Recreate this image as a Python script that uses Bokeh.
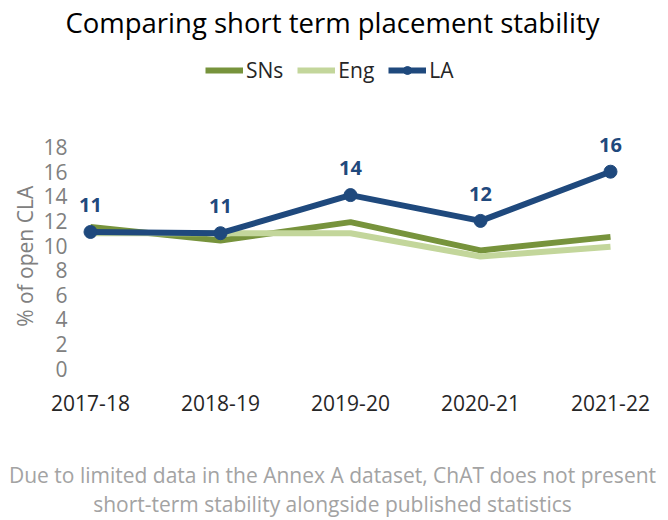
import math
from bokeh.plotting import figure
from bokeh.layouts import column, row
from bokeh.models import (ColumnDataSource, Label, LabelSet, Legend, LegendItem,
                          FixedTicker, Range1d)
from bokeh.core.properties import value
from bokeh.embed import file_html
from bokeh.resources import INLINE

# ---- data ----
years = ["2017-18", "2018-19", "2019-20", "2020-21", "2021-22"]
sns = [11.5, 10.4, 11.9, 9.6, 10.7]
eng = [11.0, 11.0, 11.0, 9.1, 9.9]
la = [11.1, 11.0, 14.1, 12.0, 16.0]
la_labels = ["11", "11", "14", "12", "16"]
y_ticks = [0, 2, 4, 6, 8, 10, 12, 14, 16, 18]

title_text = "Comparing short term placement stability"
y_label = "% of open CLA"
footer1 = "Due to limited data in the Annex A dataset, ChAT does not present"
footer2 = "short-term stability alongside published statistics"

FONT = "Open Sans"
SNS_C = "#77933c"
ENG_C = "#c3d69b"
LA_C = "#1f497d"
GREY = "#808080"

xs = list(range(len(years)))
src = ColumnDataSource(dict(x=xs, sns=sns, eng=eng, la=la, lab=la_labels))

# layout (pixels, page coordinates)
TOTAL_W = 666
LEFT_W = 40
MAIN_W = TOTAL_W - LEFT_W
TITLE_H = 46
MAIN_H = 394          # page rows 46..440
FOOT_H = 78           # page rows 440..518
PX0, PXS = 90, 130.0  # x of first category, spacing
PY0, PYS = 368, 12.3  # y of value 0, pixels per unit


def px_to_x(px):
    return (px - PX0) / PXS


def py_to_y(py):
    return (PY0 - py) / PYS


frame_left, frame_right, frame_bottom = 78, 650, 388


def strip(w, h):
    f = figure(width=w, height=h, output_backend="svg", toolbar_location=None,
               x_range=Range1d(0, w), y_range=Range1d(0, h),
               min_border=0, outline_line_color=None)
    f.axis.visible = False
    f.grid.visible = False
    return f


# ---- title strip ----
tt = strip(TOTAL_W, TITLE_H)
tt.add_layout(Label(x=332, y=TITLE_H - 22, text=title_text,
                    text_align="center", text_baseline="middle",
                    text_font=FONT, text_font_size="27.5px", text_color="#000000"))

# ---- y-axis title strip ----
yl = strip(LEFT_W, MAIN_H)
yl.add_layout(Label(x=24, y=MAIN_H - (369 - TITLE_H), text=y_label, angle=math.pi / 2,
                    text_align="left", text_baseline="middle",
                    text_font=FONT, text_font_size="21px", text_color=GREY))

# ---- main chart ----
p = figure(width=MAIN_W, height=MAIN_H, output_backend="svg", toolbar_location=None,
           x_range=Range1d(px_to_x(frame_left), px_to_x(frame_right)),
           y_range=Range1d(py_to_y(frame_bottom), py_to_y(TITLE_H)),
           min_border_left=frame_left - LEFT_W,
           min_border_right=TOTAL_W - frame_right,
           min_border_top=0, min_border_bottom=TITLE_H + MAIN_H - frame_bottom)
p.outline_line_color = None
p.xgrid.visible = False
p.ygrid.visible = False

r_sns = p.line("x", "sns", source=src, line_color=SNS_C, line_width=6, line_join="round")
r_eng = p.line("x", "eng", source=src, line_color=ENG_C, line_width=6, line_join="round")
r_la = p.line("x", "la", source=src, line_color=LA_C, line_width=6, line_join="round")
r_lam = p.scatter("x", "la", source=src, size=13, fill_color=LA_C, line_color=LA_C)

labels = LabelSet(x="x", y="la", text="lab", source=src, y_offset=27,
                  text_align="center", text_baseline="middle",
                  text_font=value(FONT), text_font_size="20px",
                  text_font_style="bold", text_color=LA_C)
p.add_layout(labels)

p.yaxis.ticker = FixedTicker(ticks=y_ticks)
p.yaxis.axis_line_color = None
p.yaxis.major_tick_line_color = None
p.yaxis.minor_tick_line_color = None
p.yaxis.major_label_text_font = FONT
p.yaxis.major_label_text_font_size = "21px"
p.yaxis.major_label_text_color = GREY
p.yaxis.major_label_standoff = 5

p.xaxis.ticker = FixedTicker(ticks=xs)
p.xaxis.major_label_overrides = {i: y for i, y in enumerate(years)}
p.xaxis.axis_line_color = None
p.xaxis.major_tick_line_color = None
p.xaxis.minor_tick_line_color = None
p.xaxis.major_label_text_font = FONT
p.xaxis.major_label_text_font_size = "21px"
p.xaxis.major_label_text_color = "#262626"
p.xaxis.major_label_standoff = 0

legend = Legend(items=[LegendItem(label="SNs", renderers=[r_sns]),
                       LegendItem(label="Eng", renderers=[r_eng]),
                       LegendItem(label="LA", renderers=[r_la, r_lam])],
                orientation="horizontal", location=(127, 304),
                glyph_width=38, glyph_height=20, label_standoff=3, spacing=14,
                padding=0, margin=0, border_line_color=None,
                background_fill_alpha=0, label_text_font=FONT,
                label_text_font_size="21px", label_text_color="#262626")
p.add_layout(legend, "center")

# ---- footer strip ----
ft = strip(TOTAL_W, FOOT_H)
for txt, py in ((footer1, 474), (footer2, 503)):
    ft.add_layout(Label(x=332, y=FOOT_H - (py - TITLE_H - MAIN_H), text=txt,
                        text_align="center", text_baseline="middle",
                        text_font=FONT, text_font_size="21px", text_color="#a3a3a3"))

layout = column(tt, row(yl, p, spacing=0), ft, spacing=0)
open("out.html", "w").write(file_html(layout, INLINE))
